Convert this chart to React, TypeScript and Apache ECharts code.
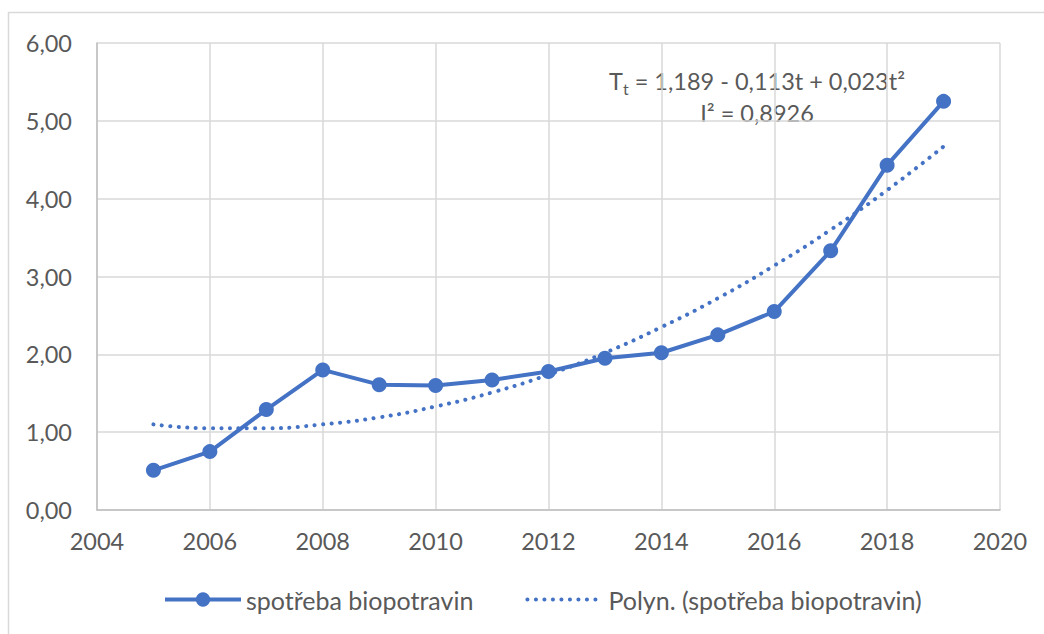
import React, { useEffect, useRef } from "react";
import * as echarts from "echarts";

const years = [2005, 2006, 2007, 2008, 2009, 2010, 2011, 2012, 2013, 2014, 2015, 2016, 2017, 2018, 2019];
const consumption = [0.51, 0.75, 1.29, 1.80, 1.61, 1.60, 1.67, 1.78, 1.95, 2.02, 2.25, 2.55, 3.33, 4.43, 5.25];
const trendValues = [1.10, 1.05, 1.05, 1.10, 1.19, 1.33, 1.51, 1.74, 2.02, 2.35, 2.72, 3.14, 3.60, 4.11, 4.67];
const seriesName = "spotřeba biopotravin";
const trendName = "Polyn. (spotřeba biopotravin)";

const BLUE = "#4472C4";
const TEXT = "#595959";
const FONT = "Lato, 'Open Sans', sans-serif";
const FS = 23.5;
const DOTTED: any = { color: BLUE, width: 4, type: [0.1, 8.4], cap: "round" };

export default function App() {
  const ref = useRef<HTMLDivElement>(null);
  useEffect(() => {
    if (!ref.current) return;
    const chart = echarts.init(ref.current, null, { renderer: "svg" });
    chart.setOption({
      animation: false,
      backgroundColor: "#ffffff",
      textStyle: { fontFamily: FONT },
      grid: { left: 97, right: 44, top: 43, bottom: 124 },
      xAxis: {
        type: "value",
        min: 2004,
        max: 2020,
        interval: 2,
        axisLine: { show: true, lineStyle: { color: "#bfbfbf", width: 1.5 } },
        axisTick: { show: false },
        splitLine: { show: true, lineStyle: { color: "#d9d9d9", width: 1.5 } },
        axisLabel: { color: TEXT, fontSize: FS, fontFamily: FONT, margin: 19, formatter: (v: number) => String(v) },
      },
      yAxis: {
        type: "value",
        min: 0,
        max: 6,
        interval: 1,
        axisLine: { show: true, lineStyle: { color: "#bfbfbf", width: 1.5 } },
        axisTick: { show: false },
        splitLine: { show: true, lineStyle: { color: "#d9d9d9", width: 1.5 } },
        axisLabel: {
          color: TEXT,
          fontSize: FS,
          fontFamily: FONT,
          margin: 25,
          formatter: (v: number) => v.toFixed(2).replace(".", ","),
        },
      },
      legend: {
        bottom: 17,
        left: 158,
        itemWidth: 76,
        itemHeight: 18,
        itemGap: 52,
        textStyle: { color: TEXT, fontSize: 25, fontFamily: FONT },
        data: [
          { name: seriesName, lineStyle: { color: BLUE, width: 4 } },
          { name: trendName, lineStyle: DOTTED, itemStyle: { opacity: 0 } },
        ],
      },
      series: [
        {
          name: seriesName,
          type: "line",
          data: years.map((y, i) => [y, consumption[i]]),
          symbol: "circle",
          symbolSize: 15,
          itemStyle: { color: BLUE },
          lineStyle: { color: BLUE, width: 4 },
          z: 3,
        },
        {
          name: trendName,
          type: "line",
          data: years.map((y, i) => [y, trendValues[i]]),
          smooth: true,
          symbol: "none",
          itemStyle: { color: BLUE },
          lineStyle: DOTTED,
          z: 2,
        },
      ],
      graphic: [
        {
          type: "rect",
          shape: { x: 8.5, y: 12.5, width: 1100, height: 700 },
          style: { fill: "none", stroke: "#d9d9d9", lineWidth: 1.5 },
          silent: true,
          z: -1,
        },
        {
          type: "text",
          x: 757,
          y: 66,
          style: {
            text: "{n|T}{sub|t}{n| = 1,189 - 0,113t + 0,023t²}",
            align: "center",
            rich: {
              n: { fontSize: FS, fill: TEXT, fontFamily: FONT, lineHeight: 30, verticalAlign: "middle" },
              sub: { fontSize: 16, fill: TEXT, fontFamily: FONT, lineHeight: 30, verticalAlign: "bottom" },
            },
          },
        },
        {
          type: "text",
          x: 757,
          y: 98,
          style: {
            text: "I² = 0,8926",
            align: "center",
            fontSize: FS,
            fill: TEXT,
            fontFamily: FONT,
            lineHeight: 30,
          },
        },
      ],
    });
    return () => chart.dispose();
  }, []);
  return <div ref={ref} style={{ width: 1044, height: 634, position: "absolute", left: 0, top: 0 }} />;
}
